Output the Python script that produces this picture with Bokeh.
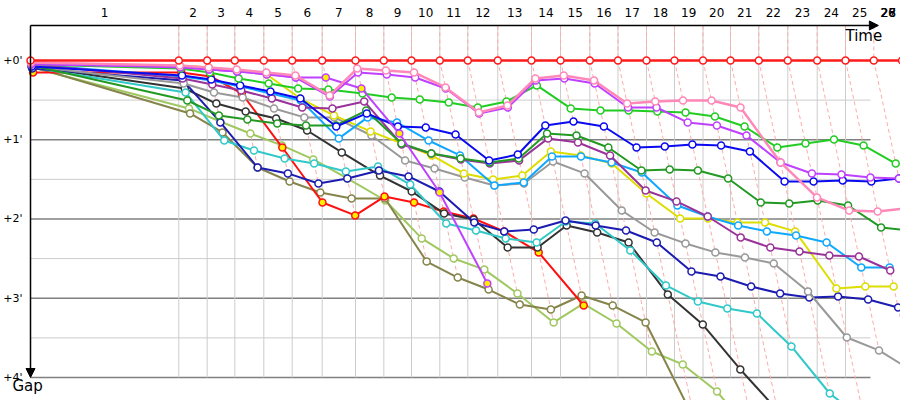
from bokeh.plotting import figure
from bokeh.models import Range1d, Arrow, NormalHead
from bokeh.core.properties import value
from bokeh.embed import file_html
from bokeh.resources import INLINE

# leader lap durations (s)
lap_durations = [526.8, 100.9, 98.1, 103.0, 100.9, 106.5, 118.3, 100.6, 98.4, 100.5,
                 99.5, 106.5, 119.7, 103.1, 104.1, 100.1, 101.3, 99.4, 101.3, 97.7,
                 100.5, 103.0, 104.5, 100.5, 100.5, 100.5]
lap_labels = [str(i) for i in range(1, 29)]
gap_ticks = [0, 60, 120, 180, 240]
gap_tick_labels = ["+0'", "+1'", "+2'", "+3'", "+4'"]

# gaps to leader (s) at end of each lap, lap 0 = start
gap_leader = [0.0] * 27
gap_pink = [1.5, 3.8, 5.3, 6.8, 9.1, 11.4, 26.5, 6.1, 7.6, 9.1, 20.4, 39.4, 34.1, 13.6, 11.4, 15.1,
            32.6, 31.0, 30.3, 30.3, 35.6, 77.2, 103.7, 113.6, 114.3, 112.0]
gap_magenta = [2.3, 5.3, 6.8, 8.3, 10.6, 12.9, 27.3, 9.1, 10.6, 12.9, 21.2, 40.1, 35.6, 15.1, 13.6,
               17.4, 35.6, 35.6, 46.9, 49.2, 56.8, 77.2, 85.6, 86.3, 88.6, 89.4]
gap_violet = [3.0, 4.5, 6.8, 8.3, 9.8, 12.9, 12.9, 21.2, 55.3, 99.9, 168.8]
gap_green = [3.0, 6.1, 9.1, 13.6, 17.4, 21.2, 22.0, 25.0, 28.0, 29.5, 31.8, 35.6, 31.0, 18.9, 36.3,
             37.9, 37.9, 38.6, 39.4, 42.4, 50.0, 65.9, 62.8, 59.8, 64.3, 78.0]
gap_blue = [4.5, 11.4, 14.4, 18.9, 23.5, 28.8, 50.0, 40.1, 50.0, 50.7, 56.0, 75.7, 71.2, 49.2, 46.2,
            50.0, 65.9, 65.1, 63.6, 64.3, 68.9, 91.6, 91.6, 90.8, 91.6, 89.3]
gap_darkgreen = [3.8, 30.3, 41.6, 44.7, 47.7, 49.2, 49.2, 37.9, 62.8, 70.4, 74.2, 77.2, 74.2, 55.3,
                 56.8, 65.9, 83.3, 82.5, 83.3, 89.3, 107.5, 108.3, 106.0, 109.8, 126.4, 128.7]
gap_purple = [3.0, 13.6, 18.2, 22.7, 28.8, 35.6, 36.3, 31.0, 63.6, 70.4, 74.9, 78.0, 75.7, 59.0,
              62.1, 71.9, 98.4, 106.7, 118.1, 134.0, 141.6, 144.6, 147.6, 148.4, 159.0]
gap_lightblue = [3.0, 12.1, 15.1, 19.7, 25.0, 30.3, 59.0, 43.1, 46.9, 60.6, 71.9, 94.6, 92.4, 72.7,
                 72.7, 77.2, 84.8, 109.8, 118.1, 124.9, 129.4, 132.5, 137.8, 156.7, 156.7]
gap_yellow = [2.3, 3.8, 5.3, 7.6, 10.6, 28.8, 41.6, 53.7, 62.8, 71.9, 85.5, 90.1, 87.1, 68.9, 71.9,
              78.0, 100.7, 119.6, 119.6, 122.6, 122.6, 129.4, 172.6, 171.1, 171.1]
gap_gray = [4.5, 17.4, 24.2, 28.0, 36.3, 43.1, 43.1, 56.8, 75.7, 81.8, 88.6, 94.6, 93.1, 76.5, 85.5,
            113.6, 130.2, 138.5, 145.3, 149.1, 153.7, 174.9, 209.7, 219.5, 234.7]
gap_navy = [6.1, 15.1, 46.9, 81.0, 85.5, 93.1, 89.3, 83.3, 87.8, 99.2, 122.6, 129.4, 127.9, 121.1,
            124.9, 128.7, 137.8, 159.7, 163.5, 171.1, 176.4, 179.4, 178.7, 180.9, 187.0]
gap_cyan = [5.3, 24.2, 60.6, 68.1, 74.2, 78.0, 84.0, 80.2, 93.9, 123.4, 128.7, 134.7, 137.8, 121.9,
            123.4, 143.8, 170.3, 182.5, 187.8, 191.5, 216.5, 252.1, 272.5]
gap_black = [4.5, 21.2, 32.6, 38.6, 43.9, 53.0, 69.6, 87.1, 99.2, 115.8, 120.4, 141.6, 141.6, 124.9,
             130.2, 137.8, 177.1, 199.9, 233.9, 265.0]
gap_red2 = [9.1, 9.1, 12.1, 25.0, 65.9, 107.5, 117.3, 103.0, 107.5, 114.3, 119.6, 129.4, 145.3, 185.5]
gap_olive = [4.5, 40.1, 54.5, 81.0, 91.6, 99.9, 104.5, 104.5, 152.2, 164.3, 173.4, 184.8, 188.5,
             177.9, 185.5, 198.3, 272.5]
gap_lightolive = [5.3, 36.3, 46.2, 55.3, 64.3, 74.9, 89.3, 106.0, 134.7, 149.9, 158.3, 176.4, 198.3,
                  184.0, 199.1, 220.3, 230.1, 250.6, 285.0]

drivers = [
    # (gaps, line colour, marker fill, width)
    (gap_lightolive, "#a0c860", "white", 2),
    (gap_olive, "#85844a", "white", 2),
    (gap_red2, "#ff1010", "#ffee00", 2),
    (gap_black, "#333333", "white", 2),
    (gap_cyan, "#30c8c8", "white", 2),
    (gap_navy, "#1c1cb0", "white", 2),
    (gap_gray, "#999999", "white", 2),
    (gap_yellow, "#dddd00", "white", 2),
    (gap_lightblue, "#10a8ff", "white", 2),
    (gap_purple, "#993399", "white", 2),
    (gap_darkgreen, "#229922", "white", 2),
    (gap_blue, "#0a0af0", "white", 2),
    (gap_green, "#22cc22", "white", 2),
    (gap_violet, "#c040ff", "#ffee00", 2),
    (gap_magenta, "#c040ff", "white", 2),
    (gap_pink, "#ff88b8", "white", 2.5),
    (gap_leader, "#ff1a1a", "white", 2.5),
]

lap_end = [0.0]
for d in lap_durations:
    lap_end.append(lap_end[-1] + d)

# pixel mapping: x 0.2815 px/s starting at px 30, y 1.321 px/s with 0 at px 60
X0, X1 = -106.6, 3090.6
Y_TOP, Y_BOT = -45.4, 257.4
AXIS_GAP = -26.5
GRID_END = 2984.0

p = figure(width=900, height=400, x_range=Range1d(X0, X1), y_range=Range1d(Y_BOT, Y_TOP),
           output_backend="svg", toolbar_location=None, min_border=0,
           x_axis_type=None, y_axis_type=None)
p.outline_line_color = None
p.background_fill_color = "white"
p.border_fill_color = "white"

# horizontal grid: every 30 s, darker every minute
for g in range(30, 241, 30):
    major = g % 60 == 0
    p.line([0, GRID_END], [g, g], line_color="#808080" if major else "#cccccc", line_width=1.5 if major else 1)

# vertical lines at leader lap ends
for k in range(1, 25):
    p.line([lap_end[k], lap_end[k]], [AXIS_GAP, 240], line_color="#cccccc", line_width=1)

# dashed lap lines connecting each car's lap completion
xs_d, ys_d = [], []
for k in range(1, 26):
    pts = sorted((g[k] for g, *_ in drivers if len(g) > k))
    xs_d.append([lap_end[k]] + [lap_end[k] + g for g in pts])
    ys_d.append([AXIS_GAP] + pts)
p.multi_line(xs_d, ys_d, line_color="#ffaaaa", line_width=1, line_dash="4 3")

for gaps, col, fill, w in drivers:
    xs = [lap_end[k] + g for k, g in enumerate(gaps)]
    p.line(xs, gaps, line_color=col, line_width=w)
    p.scatter(xs, gaps, marker="circle", size=7, fill_color=fill, line_color=col, line_width=1.5)

# axes with arrows
p.add_layout(Arrow(end=NormalHead(size=9, fill_color="black", line_color="black"),
                   x_start=0, y_start=AXIS_GAP, x_end=3012, y_end=AXIS_GAP, line_width=1.5, line_color="black"))
p.add_layout(Arrow(end=NormalHead(size=9, fill_color="black", line_color="black"),
                   x_start=0, y_start=AXIS_GAP, x_end=0, y_end=240, line_width=1.5, line_color="black"))

# lap labels
lx, lt = [], []
for i, lab in enumerate(lap_labels):
    k = i + 1
    if k < len(lap_end):
        c = (lap_end[k - 1] + lap_end[k]) / 2
    else:
        c = 3048.0
    lx.append(min(c, 3048.0))
    lt.append(lab)
p.text(lx, [-36.3] * len(lx), text=lt, text_align="center", text_baseline="middle",
       text_font=value("DejaVu Sans"), text_font_size="12px", text_color="black")

p.text([-28.4] * len(gap_ticks), gap_ticks, text=gap_tick_labels, text_align="right",
       text_baseline="middle", text_font=value("DejaVu Sans"), text_font_size="11px", text_color="black")

p.text([2895], [-18.9], text=["Time"], text_align="left", text_baseline="middle",
       text_font=value("DejaVu Sans"), text_font_size="15px", text_color="black")
p.text([-64], [246.8], text=["Gap"], text_align="left", text_baseline="middle",
       text_font=value("DejaVu Sans"), text_font_size="15px", text_color="black")

open("out.html", "w").write(file_html(p, INLINE))
